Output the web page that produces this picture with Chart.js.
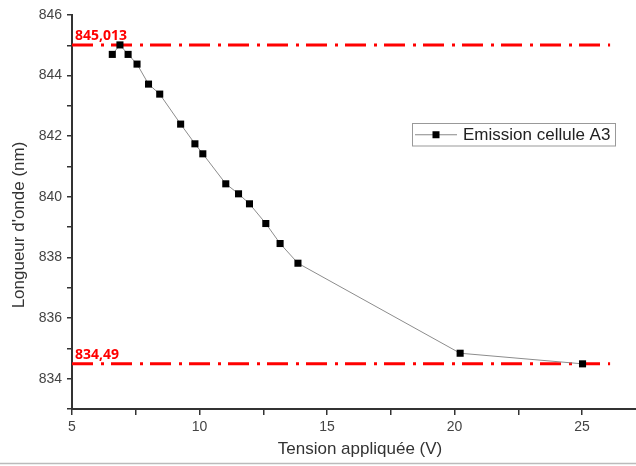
<!DOCTYPE html>
<html>
<head>
<meta charset="utf-8">
<script src="https://cdn.jsdelivr.net/npm/chart.js@4/dist/chart.umd.min.js"></script>
<style>
  html, body { margin: 0; padding: 0; background: #fff; }
  #wrap { position: relative; width: 636px; height: 466px; }
</style>
</head>
<body>
<div id="wrap"><canvas id="c" width="636" height="466"></canvas></div>
<script>
// ---- data ----
const voltage = [6.58, 6.88, 7.20, 7.55, 8.00, 8.44, 9.26, 9.82, 10.13, 11.03, 11.53, 11.96, 12.60, 13.16, 13.86, 20.22, 25.02];
const wavelength = [844.70, 845.013, 844.70, 844.38, 843.72, 843.39, 842.40, 841.75, 841.42, 840.43, 840.10, 839.77, 839.12, 838.46, 837.81, 834.84, 834.49];
const seriesName = 'Emission cellule A3';
const refValues = [845.013, 834.49];
const refLabels = ['845,013', '834,49'];
const refEndX = 26.1;
const xTicks = [5, 7.5, 10, 12.5, 15, 17.5, 20, 22.5, 25];
const yTicks = [833, 834, 835, 836, 837, 838, 839, 840, 841, 842, 843, 844, 845, 846];
const xTitle = 'Tension appliquée (V)';
const yTitle = "Longueur d'onde (nm)";

const points = voltage.map((v, i) => ({ x: v, y: wavelength[i] }));
const FONT = '"Liberation Sans", Arial, sans-serif';

const refLinesPlugin = {
  id: 'refLines',
  beforeDatasetsDraw(chart) {
    const { ctx, scales: { x, y } } = chart;
    ctx.save();
    refValues.forEach((v, i) => {
      const py = y.getPixelForValue(v);
      const x0 = x.getPixelForValue(x.min);
      const x1 = x.getPixelForValue(refEndX);
      ctx.strokeStyle = '#ff0000';
      ctx.lineWidth = 3;
      ctx.setLineDash([21, 8, 3, 7]);
      ctx.beginPath();
      ctx.moveTo(x0, py);
      ctx.lineTo(x1, py);
      ctx.stroke();
      ctx.setLineDash([]);
      ctx.fillStyle = '#ff0000';
      ctx.font = 'bold 14px "Open Sans", "Liberation Sans", sans-serif';
      ctx.textAlign = 'left';
      ctx.textBaseline = 'alphabetic';
      ctx.fillText(refLabels[i], x0 + 3, py - 5);
    });
    ctx.restore();
  }
};

const decorPlugin = {
  id: 'decor',
  afterDraw(chart) {
    const { ctx, chartArea } = chart;
    ctx.save();
    // x-axis line continues to the cropped right edge
    ctx.strokeStyle = '#333';
    ctx.lineWidth = 2;
    ctx.beginPath();
    ctx.moveTo(chartArea.right - 1, chartArea.bottom);
    ctx.lineTo(636, chartArea.bottom);
    ctx.stroke();
    // legend box
    const bx = 412.5, by = 123.5, bw = 203, bh = 22.5;
    ctx.strokeStyle = '#999';
    ctx.lineWidth = 1;
    ctx.strokeRect(bx, by, bw, bh);
    const cy = by + bh / 2;
    ctx.strokeStyle = '#888';
    ctx.beginPath();
    ctx.moveTo(415, cy);
    ctx.lineTo(457, cy);
    ctx.stroke();
    ctx.fillStyle = '#000';
    ctx.fillRect(436 - 3.5, cy - 3.5, 7, 7);
    ctx.fillStyle = '#222';
    ctx.font = '17px ' + FONT;
    ctx.textBaseline = 'middle';
    ctx.textAlign = 'left';
    ctx.fillText(seriesName, 463, cy + 1);
    // axis titles
    ctx.fillStyle = '#333';
    ctx.font = '17px ' + FONT;
    ctx.textAlign = 'center';
    ctx.fillText(xTitle, 360, 449);
    ctx.translate(19, 225);
    ctx.rotate(-Math.PI / 2);
    ctx.fillText(yTitle, 0, 0);
    ctx.setTransform(1, 0, 0, 1, 0, 0);
    // bottom border of the figure
    ctx.strokeStyle = '#bbb';
    ctx.lineWidth = 1.3;
    ctx.beginPath();
    ctx.moveTo(0, 463.5);
    ctx.lineTo(636, 463.5);
    ctx.stroke();
    ctx.restore();
  }
};

new Chart(document.getElementById('c'), {
  type: 'line',
  data: {
    datasets: [{
      label: seriesName,
      data: points,
      borderColor: '#8c8c8c',
      borderWidth: 1,
      pointStyle: 'rect',
      pointRadius: 5,
      pointBackgroundColor: '#000',
      pointBorderColor: '#000',
      pointBorderWidth: 0,
      tension: 0,
      fill: false
    }]
  },
  options: {
    responsive: false,
    animation: false,
    layout: { padding: { top: 15, left: 0, right: 0, bottom: 0 } },
    plugins: { legend: { display: false }, tooltip: { enabled: false } },
    scales: {
      x: {
        type: 'linear',
        min: 5,
        max: 26.92,
        afterBuildTicks: (s) => { s.ticks = xTicks.map(v => ({ value: v })); },
        afterFit: (s) => { s.height = 57; },
        ticks: {
          autoSkip: false,
          maxRotation: 0,
          color: '#444',
          padding: 4,
          font: { size: 14, family: FONT },
          callback: (v) => (v % 5 === 0 ? String(v) : '')
        },
        grid: { display: true, drawOnChartArea: false, drawTicks: true, tickLength: 6, color: '#333', lineWidth: 1.5 },
        border: { display: true, color: '#333', width: 2 },
        title: { display: false }
      },
      y: {
        min: 833,
        max: 846,
        afterBuildTicks: (s) => { s.ticks = yTicks.map(v => ({ value: v })); },
        afterFit: (s) => { s.width = 72; },
        ticks: {
          autoSkip: false,
          color: '#444',
          padding: 5,
          font: { size: 14, family: FONT },
          callback: (v) => (v % 2 === 0 && v !== 833 ? String(v) : '')
        },
        grid: { display: true, drawOnChartArea: false, drawTicks: true, tickLength: 5, color: '#333', lineWidth: 1.5 },
        border: { display: true, color: '#333', width: 2 },
        title: { display: false }
      }
    }
  },
  plugins: [refLinesPlugin, decorPlugin]
});
</script>
</body>
</html>
